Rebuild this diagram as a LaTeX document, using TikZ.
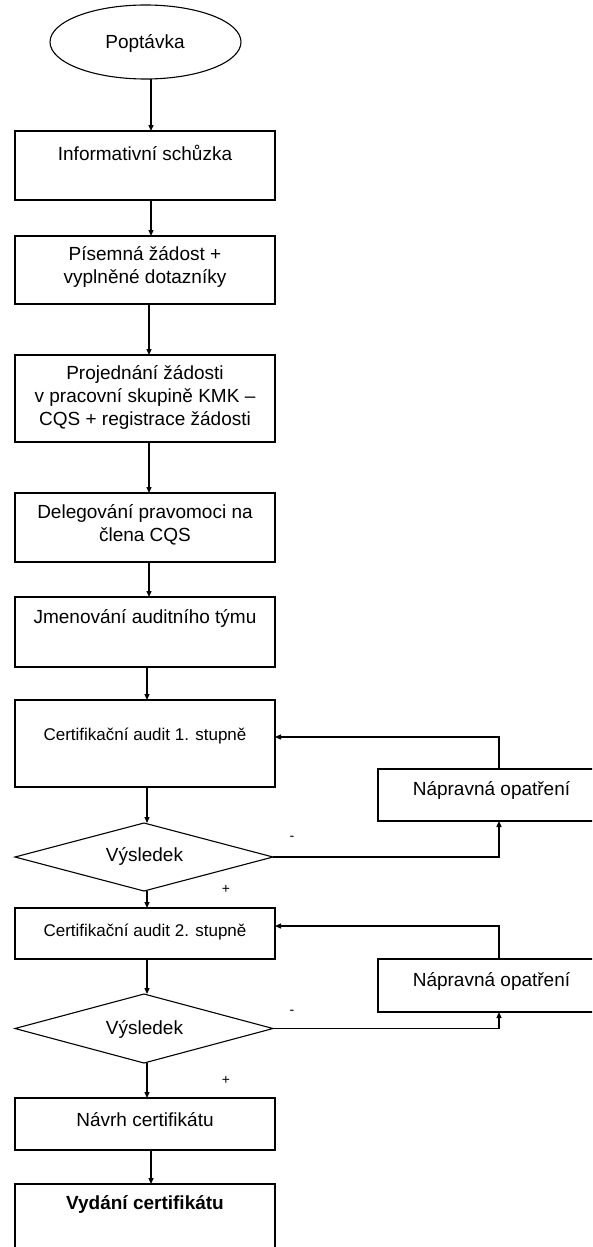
\documentclass[tikz,border=0pt]{standalone}
\usepackage{fontspec}
\setmainfont{Liberation Sans}
\usetikzlibrary{shapes.geometric,arrows.meta}
\begin{document}
\begin{tikzpicture}[x=1pt,y=-1pt,
  box/.style={draw,line width=1.3pt,minimum width=260pt,inner sep=0pt,outer sep=0pt},
  ell/.style={draw,ellipse,line width=1.1pt,inner sep=0pt,outer sep=0pt},
  dia/.style={draw,diamond,shape aspect=3.8,line width=1.1pt,inner sep=0pt,outer sep=0pt,minimum width=258pt},
  txt/.style={inner sep=0pt,align=center,font=\fontsize{19}{23}\selectfont},
  stxt/.style={inner sep=0pt,align=center,font=\fontsize{17}{21}\selectfont},
  lbl/.style={inner sep=0pt,font=\fontsize{14}{16}\selectfont},
  arr/.style={line width=1.3pt,-{Triangle[length=6pt,width=5pt]}}
]
\useasboundingbox (0,0) rectangle (592,1247);
\clip (0,0) rectangle (592,1247);
% shapes
\node[ell,minimum width=191pt,minimum height=74pt] (e) at (145.5,42) {};
\node[txt] (te) at (145,43) {Poptávka};
\node[box,minimum height=69pt] (b1) at (145,165.5) {};
\node[txt] (t1) at (145,153) {Informativní schůzka};
\node[box,minimum height=68pt] (b2) at (145,270) {};
\node[txt] (t2) at (145,266.5) {Písemná žádost +\\vyplněné dotazníky};
\node[box,minimum height=87pt] (b3) at (145,398.5) {};
\node[txt] (t3) at (145,397) {Projednání žádosti\\v pracovní skupině KMK –\\CQS + registrace žádosti};
\node[box,minimum height=69pt] (b4) at (145,527.5) {};
\node[txt] (t4) at (145,524.5) {Delegování pravomoci na\\člena CQS};
\node[box,minimum height=70pt] (b5) at (145,632) {};
\node[txt] (t5) at (145,618) {Jmenování auditního týmu};
\node[box,minimum height=87pt] (b6) at (145,743.5) {};
\node[stxt] (t6) at (145,736) {Certifikační audit 1. stupně};
\node[dia,minimum height=68pt] (d1) at (144,857) {};
\node[txt] (td1) at (144.5,856) {Výsledek};
\node[box,minimum height=51pt] (b7) at (145,933.5) {};
\node[stxt] (t7) at (145,932) {Certifikační audit 2. stupně};
\node[dia,minimum height=69pt] (d2) at (144,1028.5) {};
\node[txt] (td2) at (144.5,1029) {Výsledek};
\node[box,minimum height=52pt] (b8) at (145,1124) {};
\node[txt] (t8) at (145,1120) {Návrh certifikátu};
\node[box,minimum height=70pt] (b9) at (145,1219) {};
\node[txt] (t9) at (145,1204) {\textbf{Vydání certifikátu}};
\node[box,minimum width=227pt,minimum height=52pt] (n1) at (491.5,795) {};
\node[txt] (tn1) at (491.5,790) {Nápravná opatření};
\node[box,minimum width=227pt,minimum height=53pt] (n2) at (491.5,985.5) {};
\node[txt] (tn2) at (491.5,981) {Nápravná opatření};
% labels
\node[lbl] (m1) at (292,838) {-};
\node[lbl] (p1) at (226,889) {+};
\node[lbl] (m2) at (292,1012) {-};
\node[lbl] (p2) at (226,1080) {+};
% connectors
\draw[arr] ([xshift=5.5]e.south) -- ([xshift=6]b1.north);
\draw[arr] ([xshift=6]b1.south) -- ([xshift=6]b2.north);
\draw[arr] ([xshift=4]b2.south) -- ([xshift=4]b3.north);
\draw[arr] ([xshift=4]b3.south) -- ([xshift=4]b4.north);
\draw[arr] ([xshift=4]b4.south) -- ([xshift=4]b5.north);
\draw[arr] ([xshift=2]b5.south) -- ([xshift=2]b6.north);
\draw[arr] ([xshift=2]b6.south) -- ([xshift=3]d1.north);
\draw[arr] ([xshift=3]d1.south) -- ([xshift=2]b7.north);
\draw[arr] ([xshift=2]b7.south) -- ([xshift=3]d2.north);
\draw[arr] ([xshift=3]d2.south) -- ([xshift=2]b8.north);
\draw[arr] ([xshift=6]b8.south) -- ([xshift=6]b9.north);
\draw[arr] ([xshift=7.5]n1.north) |- ([yshift=6.5]b6.east);
\draw[arr] (d1.east) -| ([xshift=7.5]n1.south);
\draw[arr] ([xshift=7.5]n2.north) |- ([yshift=7.5]b7.east);
\draw[arr] (d2.east) -| ([xshift=7.5]n2.south);
\end{tikzpicture}
\end{document}
